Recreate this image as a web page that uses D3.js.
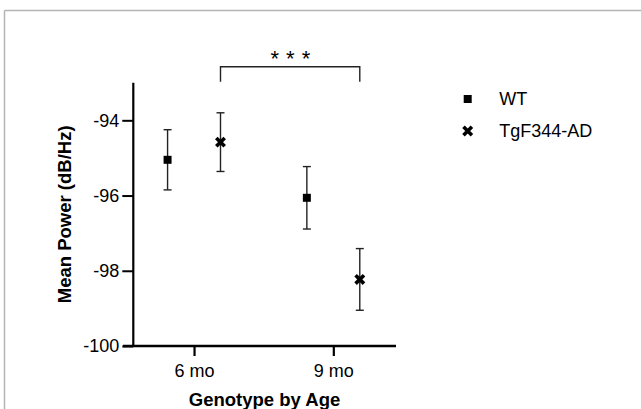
<!DOCTYPE html>
<html>
<head>
<meta charset="utf-8">
<script src="https://cdn.jsdelivr.net/npm/d3@7"></script>
<style>
  body { margin: 0; background: #fff; }
  text { font-family: "Liberation Sans", Arial, sans-serif; fill: #000; }
</style>
</head>
<body>
<script>
var ages = ["6 mo", "9 mo"];
var genotypes = ["WT", "TgF344-AD"];
var wtMean = [-95.05, -96.06];
var wtSem = [0.80, 0.83];
var tgMean = [-94.58, -98.23];
var tgSem = [0.78, 0.82];
var yTicks = [-94, -96, -98, -100];

var width = 641, height = 409;

var svg = d3.select("body").append("svg")
    .attr("width", width)
    .attr("height", height);

// frame (top and left edge only)
svg.append("line").attr("x1", 4.5).attr("x2", width).attr("y1", 10.5).attr("y2", 10.5)
    .attr("stroke", "#b4b4b4").attr("stroke-width", 1.5);
svg.append("line").attr("x1", 4.5).attr("x2", 4.5).attr("y1", 10.5).attr("y2", height)
    .attr("stroke", "#b4b4b4").attr("stroke-width", 1.5);

var y = d3.scaleLinear().domain([-100, -93]).range([346, 82.7]);
var x = d3.scaleLinear().domain([-0.51, 1.45]).range([123, 396]);
var offset = 0.19;

// points
var data = [];
ages.forEach(function (a, i) {
    data.push({ g: 0, pos: i - offset, mean: wtMean[i], sem: wtSem[i] });
    data.push({ g: 1, pos: i + offset, mean: tgMean[i], sem: tgSem[i] });
});

// y axis
var yAxis = svg.append("g")
    .attr("transform", "translate(133.3,0)")
    .call(d3.axisLeft(y).tickValues(yTicks).tickSize(11).tickPadding(3).tickFormat(d3.format("d")));
yAxis.select(".domain").attr("d", "M0," + y(-93) + "V" + y(-100)).attr("stroke-width", 2.2).attr("stroke", "#000");
yAxis.selectAll(".tick line").attr("stroke-width", 2).attr("stroke", "#000");
yAxis.selectAll(".tick text").style("font-size", "18px").attr("fill", "#000")
    .text(function (d) { return String(d).replace("\u2212", "-"); });

// x axis
var xAxis = svg.append("g")
    .attr("transform", "translate(0,346)")
    .call(d3.axisBottom(x).tickValues([0, 1]).tickSize(10).tickPadding(8)
        .tickFormat(function (d) { return ages[d]; }));
xAxis.select(".domain").attr("d", "M" + x.range()[0] + ",0H" + x.range()[1]).attr("stroke-width", 2.5).attr("stroke", "#000");
xAxis.selectAll(".tick line").attr("stroke-width", 2.2).attr("stroke", "#000");
xAxis.selectAll(".tick text").style("font-size", "18px").attr("fill", "#000");

// axis titles
svg.append("text")
    .attr("transform", "translate(71," + ((y(-93) + y(-100)) / 2) + ") rotate(-90)")
    .attr("text-anchor", "middle")
    .style("font-size", "18.5px").style("font-weight", "bold")
    .text("Mean Power (dB/Hz)");
svg.append("text")
    .attr("x", 264.5).attr("y", 406)
    .attr("text-anchor", "middle")
    .style("font-size", "18.5px").style("font-weight", "bold")
    .text("Genotype by Age");

// error bars
var eb = svg.append("g").attr("stroke", "#222").attr("stroke-width", 1.4).attr("fill", "none");
data.forEach(function (d) {
    var cx = x(d.pos);
    eb.append("line").attr("x1", cx).attr("x2", cx).attr("y1", y(d.mean + d.sem)).attr("y2", y(d.mean - d.sem));
    eb.append("line").attr("x1", cx - 4).attr("x2", cx + 4).attr("y1", y(d.mean + d.sem)).attr("y2", y(d.mean + d.sem));
    eb.append("line").attr("x1", cx - 4).attr("x2", cx + 4).attr("y1", y(d.mean - d.sem)).attr("y2", y(d.mean - d.sem));
});

function drawMarker(sel, g) {
    if (g === 0) {
        sel.append("path").attr("d", d3.symbol(d3.symbolSquare, 64)()).attr("fill", "#000");
    } else {
        sel.append("path").attr("d", d3.symbol(d3.symbolX, 48)())
            .attr("stroke", "#000").attr("stroke-width", 3.6).attr("fill", "none");
    }
}

data.forEach(function (d) {
    var m = svg.append("g").attr("transform", "translate(" + x(d.pos) + "," + y(d.mean) + ")");
    drawMarker(m, d.g);
});

// significance bracket between TgF344-AD groups
var bx1 = x(0 + offset), bx2 = x(1 + offset);
svg.append("path")
    .attr("d", "M" + bx1 + ",81.7V66.7H" + bx2 + "V81.7")
    .attr("fill", "none").attr("stroke", "#222").attr("stroke-width", 1.4);
svg.append("text")
    .attr("x", (bx1 + bx2) / 2 + 0.5).attr("y", 65.5)
    .attr("text-anchor", "middle")
    .style("font-size", "22px").style("letter-spacing", "0.5px")
    .text("* * *");

// legend
var legend = svg.append("g");
genotypes.forEach(function (name, i) {
    var row = legend.append("g").attr("transform", "translate(467.7," + (99 + i * 32) + ")");
    drawMarker(row, i);
    row.append("text").attr("x", 31.5).attr("dy", "0.35em")
        .style("font-size", "18px").text(name);
});
</script>
</body>
</html>
